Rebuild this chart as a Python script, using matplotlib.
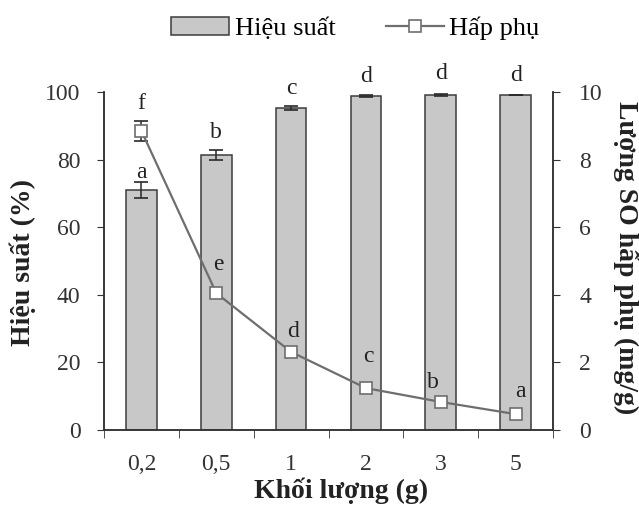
import matplotlib
matplotlib.use("Agg")
from matplotlib import pyplot as plt
from matplotlib.ticker import FixedLocator

plt.rcParams['font.family'] = ['Liberation Serif', 'DejaVu Serif']

# data
mass = ["0,2", "0,5", "1", "2", "3", "5"]
hieu_suat = [71.0, 81.4, 95.3, 98.7, 99.1, 99.1]
hieu_suat_err = [2.4, 1.4, 0.6, 0.3, 0.3, 0.0]
bar_letters = ["a", "b", "c", "d", "d", "d"]
hap_phu = [8.85, 4.05, 2.31, 1.24, 0.83, 0.47]
hap_phu_err = [0.3, 0.0, 0.0, 0.0, 0.0, 0.0]
line_letters = ["f", "e", "d", "c", "b", "a"]

x = list(range(len(mass)))
FS = 17

fig = plt.figure(figsize=(6.39, 5.05), dpi=100)
ax = fig.add_axes([104 / 639, 1 - 430 / 505, 449 / 639, 338 / 505])
ax2 = ax.twinx()

bars = ax.bar(x, hieu_suat, width=0.41, color="#c8c8c8", edgecolor="#3c3c3c",
              linewidth=1.1, zorder=2)
ax.errorbar(x, hieu_suat, yerr=hieu_suat_err, fmt="none", ecolor="#2a2a2a",
            elinewidth=1.1, capsize=5, capthick=1.2, zorder=3)
# letters above the bars (baseline offsets from bar top)
bar_dy = [3.6, 5.0, 4.1, 4.3, 4.8, 4.3]
for xi, v, t, dy in zip(x, hieu_suat, bar_letters, bar_dy):
    ax.text(xi, v + dy, t, ha="center", va="baseline", fontsize=FS,
            color="#222222", clip_on=False)

line, = ax2.plot(x, hap_phu, color="#6e6e6e", linewidth=1.6, marker="s",
                 markersize=9, markerfacecolor="white", markeredgecolor="#6e6e6e",
                 markeredgewidth=1.2, zorder=4)
ax2.errorbar(x[:1], hap_phu[:1], yerr=hap_phu_err[:1], fmt="none", ecolor="#2a2a2a",
             elinewidth=1.1, capsize=5, capthick=1.2, zorder=3)
line_off = [(0.0, 0.65), (0.03, 0.68), (0.02, 0.44), (0.03, 0.77), (-0.11, 0.41), (0.06, 0.51)]
for xi, v, t, (dx, dy) in zip(x, hap_phu, line_letters, line_off):
    ax2.text(xi + dx, v + dy, t, ha="center", va="baseline", fontsize=FS,
             color="#222222", clip_on=False)

ax.set_xlim(-0.5, 5.5)
ax.set_ylim(0, 100)
ax2.set_ylim(0, 10)
ax.set_yticks([0, 20, 40, 60, 80, 100])
ax2.set_yticks([0, 2, 4, 6, 8, 10])
ax.set_xticks(x)
ax.set_xticklabels(mass)
ax.xaxis.set_minor_locator(FixedLocator([i - 0.5 for i in range(7)]))
ax.tick_params(axis="x", which="major", length=0, pad=17, labelsize=FS, colors="#333333")
ax.tick_params(axis="x", which="minor", length=6, direction="out", color="#333333")
ax.tick_params(axis="y", length=5, direction="out", pad=12, labelsize=FS, colors="#333333")
ax2.tick_params(axis="y", length=5, direction="out", pad=14, labelsize=FS, colors="#333333")

for a in (ax, ax2):
    a.spines["top"].set_visible(False)
    for s in ("left", "right", "bottom"):
        a.spines[s].set_color("#333333")
        a.spines[s].set_linewidth(1.1)

fig.text(341 / 639, 1 - 491 / 505, "Khối lượng (g)", fontsize=20, fontweight="bold",
         ha="center", va="center", color="#222222")
fig.text(23 / 639, 1 - 263 / 505, "Hiệu suất (%)", fontsize=20, fontweight="bold",
         ha="center", va="center", rotation=90, color="#222222")
fig.text(626 / 639, 1 - 258 / 505, "Lượng SO hấp phụ (mg/g)", fontsize=20,
         fontweight="bold", ha="center", va="center", rotation=-90, color="#222222")

fig.legend([bars, line], ["Hiệu suất", "Hấp phụ"], loc="center left",
           bbox_to_anchor=(0.231, 0.944), ncol=2, frameon=False, fontsize=19,
           handlelength=2.2, columnspacing=1.9, handletextpad=0.2)

plt.savefig("out.png", dpi=100)
